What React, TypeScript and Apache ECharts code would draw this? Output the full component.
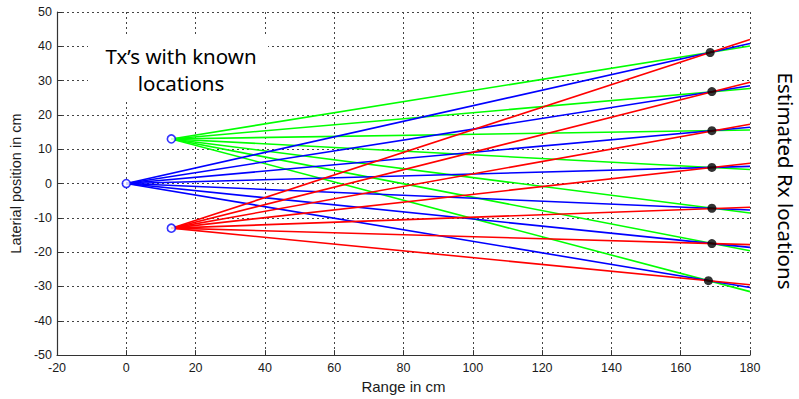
import React, { useEffect, useRef } from "react";
import * as echarts from "echarts";

// Transmitter positions (cm)
const txNames = ["green", "blue", "red"];
const txX = [13, 0, 13];
const txY = [13, 0, -13];
const txColors = ["#00ff00", "#0000ff", "#ff0000"];

// Estimated receiver positions (cm)
const rxX = [168.5, 169, 169, 169, 169, 169, 168];
const rxY = [38.2, 26.8, 15.4, 4.7, -7.2, -17.5, -28.3];

// Ray end values at range 180 cm, per transmitter
const rayEndX = 180;
const greenEnds = [40.1, 27.7, 15.6, 4.1, -8.6, -19.6, -31.5];
const blueEnds = [40.8, 28.5, 16.4, 5.0, -7.7, -18.6, -30.3];
const redEnds = [42.0, 29.5, 17.3, 5.9, -6.9, -17.8, -29.5];
const endsByTx = [greenEnds, blueEnds, redEnds];

const xTicks = { min: -20, max: 180, interval: 20 };
const yTicks = { min: -50, max: 50, interval: 10 };

export default function App() {
  const ref = useRef<HTMLDivElement>(null);
  useEffect(() => {
    if (!ref.current) return;
    const chart = echarts.init(ref.current, null, { renderer: "svg" });
    const labelFont = "'Liberation Sans', Arial, sans-serif";
    const series: any[] = [];
    txNames.forEach((name, t) => {
      endsByTx[t].forEach((end, i) => {
        series.push({
          type: "line",
          name: name + i,
          data: [
            [txX[t], txY[t]],
            [rayEndX, end],
          ],
          showSymbol: false,
          symbol: "none",
          lineStyle: { color: txColors[t], width: 1.6 },
          z: 3 + t,
          silent: true,
        });
      });
    });
    series.push({
      type: "scatter",
      name: "rx",
      data: rxX.map((x, i) => [x, rxY[i]]),
      symbol: "circle",
      symbolSize: 9,
      itemStyle: { color: "#000" },
      z: 10,
    });
    series.push({
      type: "scatter",
      name: "tx",
      data: txX.map((x, i) => [x, txY[i]]),
      symbol: "circle",
      symbolSize: 8,
      itemStyle: { color: "#fff", borderColor: "#0000ff", borderWidth: 1.6 },
      z: 11,
    });
    chart.setOption({
      animation: false,
      backgroundColor: "#fff",
      grid: { left: 57, top: 12, right: 49, bottom: 43 },
      xAxis: {
        type: "value",
        min: xTicks.min,
        max: xTicks.max,
        interval: xTicks.interval,
        name: "Range in cm",
        nameLocation: "middle",
        nameGap: 23,
        nameTextStyle: { fontSize: 15, color: "#1a1a1a", fontFamily: labelFont },
        axisLine: { onZero: false, lineStyle: { color: "#333", width: 1.2 } },
        axisTick: { inside: true, length: 5, lineStyle: { color: "#333" } },
        axisLabel: { fontSize: 12.5, color: "#1a1a1a", fontFamily: labelFont, margin: 6 },
        splitLine: { show: true, lineStyle: { color: "#444", type: [2, 3], width: 1 } },
      },
      yAxis: {
        type: "value",
        min: yTicks.min,
        max: yTicks.max,
        interval: yTicks.interval,
        name: "Laterial position in cm",
        nameLocation: "middle",
        nameGap: 33,
        nameRotate: 90,
        nameTextStyle: { fontSize: 14.5, color: "#1a1a1a", fontFamily: labelFont },
        axisLine: { onZero: false, lineStyle: { color: "#333", width: 1.2 } },
        axisTick: { inside: true, length: 5, lineStyle: { color: "#333" } },
        axisLabel: { fontSize: 12.5, color: "#1a1a1a", fontFamily: labelFont, margin: 5 },
        splitLine: { show: true, lineStyle: { color: "#444", type: [2, 3], width: 1 } },
      },
      graphic: [
        {
          type: "rect",
          z: 100,
          shape: { x: 88, y: 37, width: 180, height: 65 },
          style: { fill: "#fff" },
        },
        {
          type: "text",
          z: 101,
          x: 181,
          y: 69,
          style: {
            text: "Tx\u2019s with known\nlocations",
            fontSize: 20.5,
            lineHeight: 27,
            fontFamily: "'Noto Sans', 'Open Sans', sans-serif",
            fill: "#000",
            align: "center",
            verticalAlign: "middle",
          },
        },
        {
          type: "text",
          z: 101,
          x: 786,
          y: 181,
          rotation: -Math.PI / 2,
          style: {
            text: "Estimated Rx locations",
            fontSize: 20.5,
            fontFamily: "'Noto Sans', 'Open Sans', sans-serif",
            fill: "#000",
            align: "center",
            verticalAlign: "middle",
          },
        },
      ],
      series,
    });
    return () => chart.dispose();
  }, []);
  return <div ref={ref} style={{ width: 799, height: 399, position: "absolute", left: 0, top: 0 }} />;
}
